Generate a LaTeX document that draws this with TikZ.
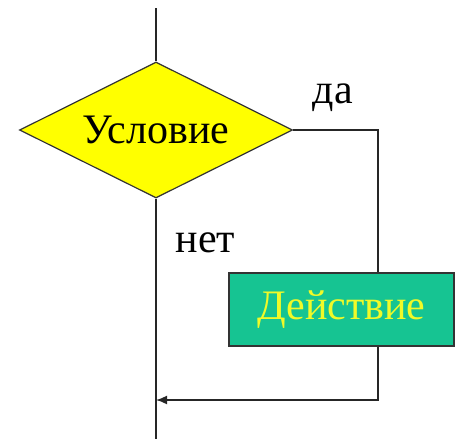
\documentclass[tikz,border=0pt]{standalone}
\usepackage{fontspec}
\setmainfont{Liberation Serif}
\usetikzlibrary{shapes.geometric,arrows.meta}
\definecolor{condfill}{RGB}{255,255,0}
\definecolor{actfill}{RGB}{22,196,146}
\definecolor{acttext}{RGB}{240,250,40}
\tikzset{
  flow/.style={line width=1.6pt, draw=black!85},
  cond/.style={diamond, draw=black!80, line width=1.2pt, fill=condfill, aspect=2,
    minimum width=273pt, minimum height=136pt, inner sep=0pt, font=\fontsize{42}{46}\selectfont},
  act/.style={rectangle, draw=black!80, line width=1.2pt, fill=actfill, text=acttext,
    minimum width=225pt, minimum height=73pt, inner sep=0pt, font=\fontsize{42}{46}\selectfont},
  lbl/.style={font=\fontsize{42}{46}\selectfont, inner sep=0pt, anchor=base}
}
\begin{document}
\begin{tikzpicture}[x=1pt,y=-1pt]
\useasboundingbox (0,0) rectangle (458,439);
\coordinate (top) at (156,8);
\coordinate (bot) at (156,439);
\coordinate (col) at (378,0);
\coordinate (join) at (156,400);
\node[cond] (d) at (156,130) {Условие};
\node[act] (b) at (341.5,309.5) {Действие};
\node[lbl] (yes) at (333,103) {да};
\node[lbl] (no) at (205.5,252) {нет};
\draw[flow] (top) -- (d.north);
\draw[flow] (d.south) -- (bot);
\draw[flow] (d.east) -| (b.north -| col);
\draw[flow, -{Latex[length=11pt,width=9pt]}] (b.south -| col) |- (join);
\end{tikzpicture}
\end{document}
